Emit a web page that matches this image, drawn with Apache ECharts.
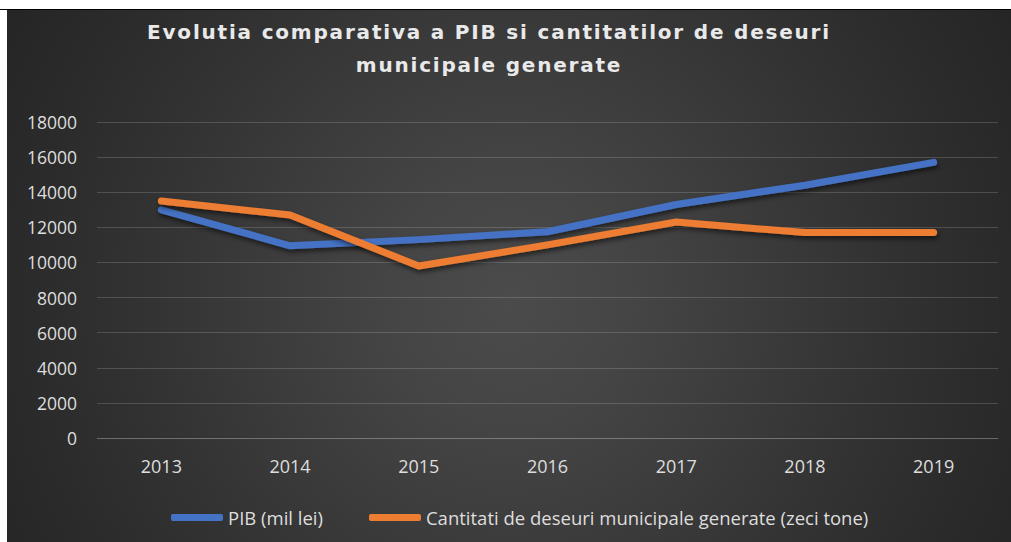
<!DOCTYPE html>
<html>
<head>
<meta charset="utf-8">
<script src="https://cdn.jsdelivr.net/npm/echarts@6/dist/echarts.min.js"></script>
<style>
  html, body { margin: 0; padding: 0; background: #ffffff; width: 1011px; height: 542px; overflow: hidden; }
  #topline { position: absolute; left: 0; top: 9px; width: 1011px; height: 1px; background: #000; }
  #bg { position: absolute; left: 7px; top: 10px; right: 0; bottom: 0;
        background: radial-gradient(circle at 503px 290px, #4b4b4b 0px, #454545 120px, #3c3c3c 240px, #333333 360px, #2b2b2b 480px, #242424 600px, #202020 720px); }
  #chart { position: absolute; left: 0; top: 0; width: 1011px; height: 542px; }
  #chart text[style*="DejaVu"], #chart text[font-family*="DejaVu"] { letter-spacing: 1.8px; }
</style>
</head>
<body>
<div id="topline"></div>
<div id="bg"></div>
<div id="chart"></div>
<script>
const titleLines = ['Evolutia comparativa a PIB si cantitatilor de deseuri', 'municipale generate'];
const years = ['2013', '2014', '2015', '2016', '2017', '2018', '2019'];
const pib = [13000, 10950, 11300, 11750, 13300, 14400, 15700];
const deseuri = [13500, 12700, 9800, 11000, 12300, 11700, 11700];
const seriesNames = ['PIB (mil lei)', 'Cantitati de deseuri municipale generate (zeci tone)'];

const chart = echarts.init(document.getElementById('chart'), null, { renderer: 'svg', width: 1011, height: 542 });
const lineShadow = { shadowColor: 'rgba(0,0,0,0.55)', shadowBlur: 5, shadowOffsetX: 1, shadowOffsetY: 3 };
chart.setOption({
  backgroundColor: 'transparent',
  animation: false,
  graphic: [{
    type: 'text', x: 489, y: 15.5, z: 10,
    style: {
      text: titleLines.join('\n'),
      font: 'bold 20px "DejaVu Sans"',
      fill: '#e9e9e9',
      align: 'center', verticalAlign: 'top',
      textAlign: 'center', textVerticalAlign: 'top',
      lineHeight: 33,
      shadowColor: 'rgba(0,0,0,0.8)', shadowBlur: 3, shadowOffsetX: 1, shadowOffsetY: 1.5
    }
  }],
  grid: { left: 97, right: 13, top: 122, bottom: 104, containLabel: false },
  legend: {
    left: 166, top: 503,
    icon: 'roundRect', itemWidth: 52, itemHeight: 7, itemGap: 46,
    textStyle: { color: '#dedede', fontFamily: 'Open Sans', fontSize: 18.5 },
    data: seriesNames
  },
  xAxis: {
    type: 'category', data: years, boundaryGap: true,
    axisLine: { show: true, lineStyle: { color: 'rgba(255,255,255,0.16)', width: 1 } },
    axisTick: { show: false },
    axisLabel: { color: '#dedede', fontFamily: 'Open Sans', fontSize: 18, margin: 19 }
  },
  yAxis: {
    type: 'value', min: 0, max: 18000, interval: 2000,
    axisLine: { show: false }, axisTick: { show: false },
    splitLine: { lineStyle: { color: 'rgba(255,255,255,0.16)', width: 1 } },
    axisLabel: { color: '#dedede', fontFamily: 'Open Sans', fontSize: 17.5, margin: 20,
                 formatter: function (v) { return String(v); } }
  },
  series: [
    { name: seriesNames[0], type: 'line', data: pib, symbol: 'none', color: '#4472c4',
      lineStyle: Object.assign({ width: 7, color: '#4472c4', cap: 'round', join: 'round' }, lineShadow) },
    { name: seriesNames[1], type: 'line', data: deseuri, symbol: 'none', color: '#ed7d31',
      lineStyle: Object.assign({ width: 7, color: '#ed7d31', cap: 'round', join: 'round' }, lineShadow) }
  ]
});
</script>
</body>
</html>
